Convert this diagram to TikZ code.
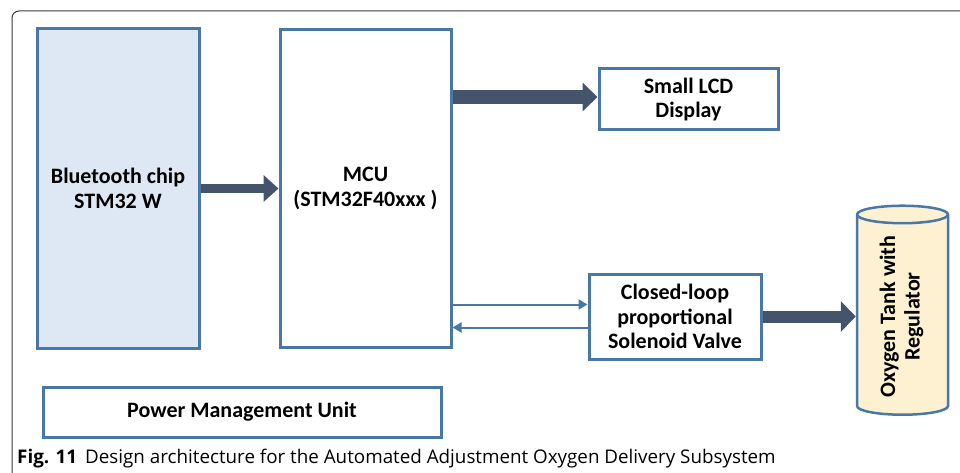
\documentclass[tikz,border=0pt]{standalone}
\usepackage{fontspec}
\setmainfont{Carlito}
\newfontfamily\capfont{Open Sans}
\usetikzlibrary{positioning}
\usetikzlibrary{arrows.meta}
\usetikzlibrary{shapes.geometric}

\definecolor{boxblue}{HTML}{4A78A6}
\definecolor{btfill}{HTML}{DEE8F4}
\definecolor{arrowdark}{HTML}{44546A}
\definecolor{tankfill}{HTML}{FDF1D2}
\definecolor{framegray}{HTML}{3A3A3A}

\begin{document}
\begin{tikzpicture}[x=1pt,y=-1pt,
box/.style={draw=boxblue, line width=3pt, align=center, inner sep=2pt,
  font=\fontsize{22}{24.5}\selectfont\bfseries},
bigarrow/.style 2 args={draw=arrowdark, line width=#1,
  -{Triangle[length=15pt, width=#2]}},
thin/.style={draw=boxblue, line width=2pt, -{Triangle[length=9pt, width=10pt]}},
frame/.style={draw=framegray, line width=1pt, rounded corners=7pt}
]
\useasboundingbox (0,0) rectangle (960,473);
%outer frame
\draw[frame] (961,11) -- (12,11) -- (12,474);

%create nodes
\node[box, fill=btfill, minimum width=162pt, minimum height=319pt] (bt) at (118,188.5)
  {Bluetooth chip\\STM32 W};
\node[box, minimum width=171pt, minimum height=318pt, right=78pt of bt] (mcu)
  {MCU\\(STM32F40xxx )};
\node[box, minimum width=179pt, minimum height=61pt] (lcd) at (688.5,99.5)
  {Small LCD\\Display};
\node[box, minimum width=172pt, minimum height=85pt] (valve) at (675,316.5)
  {Closed-loop\\proportional\\Solenoid Valve};
\node[box, line width=2.5pt, fill=tankfill, cylinder, shape border rotate=90,
  aspect=0.33, minimum width=91pt, minimum height=209pt] (tank) at (902.5,316.5)
  {\rotatebox{90}{\begin{tabular}{@{}c@{}}Oxygen Tank with\\Regulator\end{tabular}}};
\node[box, minimum width=398pt, minimum height=50pt] (pmu) at (242,412)
  {Power Management Unit};

\node[anchor=west, inner sep=0pt, font=\capfont\fontsize{18.8}{20}\selectfont] (cap) at (17,459)
  {\textbf{Fig. 11}\hspace{8pt}Design architecture for the Automated Adjustment Oxygen Delivery Subsystem};

%draw paths
\draw[bigarrow={9pt}{26pt}] (bt.east) -- (mcu.west);
\draw[bigarrow={14pt}{28pt}] ([yshift=2.5pt]mcu.east |- lcd.west) -- ([yshift=2.5pt]lcd.west);
\draw[bigarrow={12pt}{30pt}] (valve.east) -- (tank);
\draw[thin] ([yshift=12pt]mcu.east |- valve.west) -- ([yshift=12pt]valve.west);
\draw[thin] ([yshift=-11pt]valve.west) -- ([yshift=-11pt]mcu.east |- valve.west);

\end{tikzpicture}
\end{document}
